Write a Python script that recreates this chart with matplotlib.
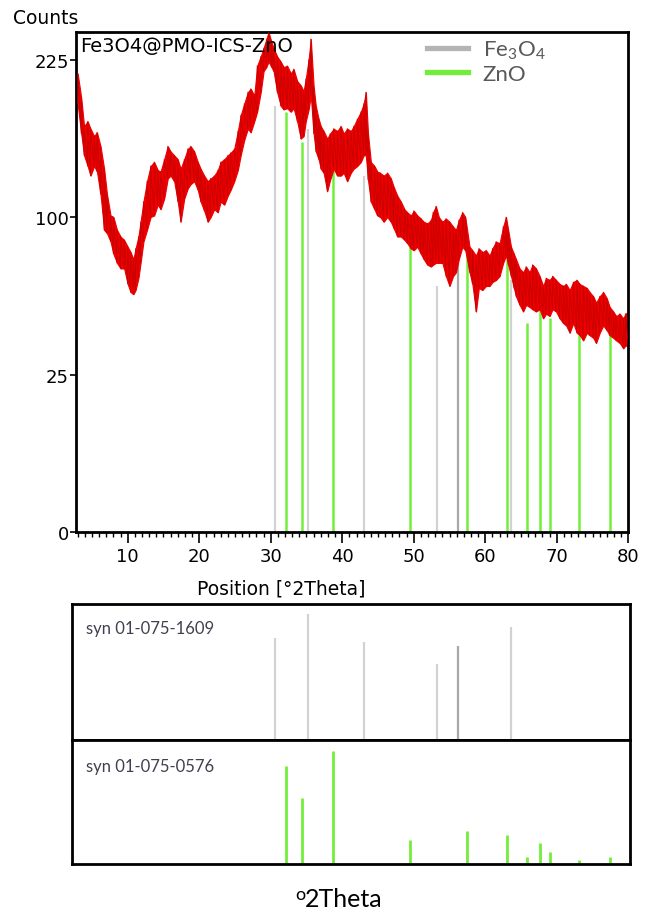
import numpy as np
import matplotlib.pyplot as plt
from matplotlib.lines import Line2D

plt.rcParams['mathtext.fontset'] = 'custom'
plt.rcParams['mathtext.rm'] = 'Lato'
plt.rcParams['mathtext.it'] = 'Lato'

two_theta = [3.0, 3.5, 3.9, 4.4, 4.8, 5.3, 5.7, 6.2, 6.7, 7.1, 7.6, 8.0, 8.5, 9.0, 9.5,
             10.0, 10.4, 10.8, 11.1, 11.5, 11.8, 12.2, 12.7, 13.2, 13.7, 14.2, 14.6, 15.1,
             15.6, 16.0, 16.5, 17.0, 17.4, 17.9, 18.4, 18.8, 19.3, 19.8, 20.2, 20.7, 21.2,
             21.6, 22.1, 22.6, 23.0, 23.5, 24.0, 24.4, 24.9, 25.4, 25.8, 26.3, 26.8, 27.2,
             27.7, 28.1, 28.6, 29.0, 29.4, 29.7, 30.1, 30.4, 30.9, 31.4, 31.8, 32.3, 32.8,
             33.2, 33.7, 34.2, 34.6, 34.9, 35.3, 35.6, 36.0, 36.3, 36.7, 37.0, 37.4, 37.9,
             38.3, 38.8, 39.3, 39.8, 40.2, 40.7, 41.2, 41.6, 42.1, 42.6, 43.0, 43.3, 43.6,
             44.0, 44.5, 44.9, 45.3, 45.8, 46.3, 46.8, 47.2, 47.7, 48.2, 48.7, 49.1, 49.6,
             50.0, 50.5, 51.0, 51.4, 51.9, 52.4, 52.7, 53.1, 53.5, 54.0, 54.5, 55.0, 55.5,
             55.9, 56.3, 56.8, 57.2, 57.8, 58.2, 58.7, 59.1, 59.6, 60.1, 60.6, 61.0, 61.5,
             62.0, 62.5, 62.9, 63.2, 63.6, 64.0, 64.3, 64.8, 65.3, 65.7, 66.2, 66.6, 67.1,
             67.6, 68.1, 68.5, 69.0, 69.4, 69.9, 70.4, 70.9, 71.3, 71.8, 72.3, 72.8, 73.2,
             73.7, 74.2, 74.6, 75.1, 75.5, 76.0, 76.5, 77.0, 77.4, 77.9, 78.3, 78.8, 79.3,
             79.6, 80.0]
counts_low = [185, 160, 143, 135, 128, 135, 131, 115, 92, 90, 85, 78, 73, 70, 70,
              62, 58, 57, 59, 65, 73, 85, 92, 100, 101, 108, 105, 112,
              126, 128, 124, 110, 97, 112, 119, 122, 124, 118, 110, 104, 97,
              100, 105, 103, 110, 108, 114, 118, 124, 132, 143, 155, 164, 161,
              170, 178, 195, 214, 218, 223, 218, 214, 195, 183, 180, 181, 178,
              181, 170, 156, 158, 170, 180, 192, 160, 146, 140, 133, 130, 117,
              125, 133, 128, 128, 130, 124, 130, 133, 135, 138, 143, 143, 125,
              110, 105, 101, 100, 97, 100, 97, 93, 88, 88, 86, 84, 81,
              80, 82, 78, 75, 72, 71, 72, 73, 73, 73, 66, 61, 66,
              68, 75, 82, 80, 68, 62, 49, 60, 59, 61, 61, 63, 64,
              66, 73, 77, 72, 66, 60, 56, 52, 49, 52, 51, 50, 49,
              50, 46, 48, 47, 50, 49, 46, 44, 43, 40, 44, 40, 39,
              37, 40, 39, 38, 36, 40, 43, 41, 39, 38, 37, 36, 34,
              35, 35]
counts_high = [212, 190, 166, 170, 164, 158, 161, 150, 133, 115, 101, 100, 92, 88, 86,
               82, 79, 75, 81, 88, 97, 110, 124, 135, 138, 132, 131, 140,
               150, 146, 143, 140, 133, 140, 148, 150, 146, 138, 133, 128, 124,
               126, 128, 132, 138, 140, 143, 145, 148, 162, 175, 185, 195, 198,
               192, 219, 228, 236, 245, 252, 242, 236, 228, 223, 218, 219, 212,
               216, 205, 201, 196, 207, 225, 245, 200, 183, 172, 166, 162, 156,
               160, 164, 162, 166, 160, 164, 162, 166, 172, 178, 185, 195, 160,
               138, 135, 131, 130, 128, 130, 126, 120, 114, 110, 105, 103, 101,
               104, 101, 99, 97, 96, 98, 103, 107, 100, 97, 99, 97, 94,
               92, 98, 103, 100, 82, 80, 77, 81, 79, 80, 77, 81, 85,
               84, 94, 100, 92, 82, 78, 75, 70, 68, 71, 68, 72, 70,
               66, 61, 65, 64, 66, 64, 62, 61, 62, 59, 63, 64, 62,
               61, 60, 58, 56, 53, 56, 58, 55, 51, 49, 47, 48, 46,
               48, 49]

# reference patterns
fe3o4_pos = [30.6, 35.2, 43.1, 53.2, 56.2, 63.6]
fe3o4_top = [183, 164, 128, 61, 73, 64]      # line height drawn under the pattern
fe3o4_rel = [75, 93, 72, 56, 69, 83]         # syn 01-075-1609
fe3o4_col = ['#d2d2d2', '#d2d2d2', '#d2d2d2', '#d2d2d2', '#a8a8a8', '#d2d2d2']

zno_pos = [32.1, 34.4, 38.7, 49.5, 57.4, 63.0, 65.9, 67.7, 69.1, 73.1, 77.4]
zno_top = [178, 153, 138, 86, 85, 75, 44, 51, 46, 39, 43]
zno_rel = [79, 53, 91, 19, 27, 23, 6, 17, 10, 3, 6]  # syn 01-075-0576

x_ticks = [10, 20, 30, 40, 50, 60, 70, 80]
y_ticks = [0, 25, 100, 225]

red = '#ee0000'
green = '#72ee3a'
grey = '#b4b4b4'

fig = plt.figure(figsize=(6.45, 9.12), dpi=100)

# main pattern, square-root count axis
ax = fig.add_axes([76 / 645, 379 / 912, 552.3 / 645, 500 / 912])
ax.set_yscale('function', functions=(lambda v: np.sqrt(np.clip(v, 0, None)), np.square))
ax.vlines(fe3o4_pos, 0, fe3o4_top, colors=fe3o4_col, lw=1.6, zorder=1)
ax.vlines(zno_pos, 0, zno_top, colors=green, lw=1.8, zorder=1)
ax.fill_between(two_theta, counts_low, counts_high, color=red, lw=0.8, zorder=2)
# zigzag between the edges gives the noisy texture
zz_x = np.repeat(two_theta, 2)
zz_y = np.column_stack([counts_low, counts_high]).ravel()
ax.plot(zz_x, zz_y, color='#c40000', lw=0.7, alpha=0.8, zorder=3)

ax.set_xlim(2.77, 80.0)
ax.set_ylim(0, 252)
ax.set_xticks(x_ticks)
ax.set_xticks(np.arange(3, 81), minor=True)
ax.set_yticks(y_ticks)
ax.tick_params(axis='x', which='major', length=8, width=1.2, labelsize=13, pad=3)
ax.tick_params(axis='x', which='minor', length=3.5, width=1)
ax.tick_params(axis='y', length=4, width=1.2, labelsize=13, pad=1)
for s in ax.spines.values():
    s.set_linewidth(2)

ax.set_xlabel('Position [°2Theta]', fontsize=13.5)
ax.xaxis.set_label_coords(0.371, -0.093)
ax.text(0.007, 0.992, 'Fe3O4@PMO-ICS-ZnO', transform=ax.transAxes, va='top', fontsize=14)
fig.text(13 / 645, 1 - 18 / 912, 'Counts', va='center', fontsize=13.5)

handles = [Line2D([], [], color=grey, lw=3.8), Line2D([], [], color=green, lw=3.8)]
ax.legend(handles, [r'Fe$_3$O$_4$', 'ZnO'], loc='upper left', bbox_to_anchor=(0.6355, 0.986),
          frameon=False, borderpad=0, borderaxespad=0, handlelength=1.85, handletextpad=0.65,
          labelspacing=0.12, prop={'family': 'Lato', 'size': 16}, labelcolor='#595959')

# stick patterns of the reference cards
ax_fe = fig.add_axes([72 / 645, 171 / 912, 558 / 645, 136 / 912])
ax_zn = fig.add_axes([72 / 645, 47 / 912, 558 / 645, 124 / 912])
ax_fe.vlines(fe3o4_pos, 0, fe3o4_rel, colors=fe3o4_col, lw=1.6)
ax_zn.vlines(zno_pos, 0, zno_rel, colors=green, lw=2)
for a, name, ty in [(ax_fe, 'syn 01-075-1609', 0.82), (ax_zn, 'syn 01-075-0576', 0.79)]:
    a.set_xlim(2.21, 80.24)
    a.set_ylim(0, 100)
    a.set_xticks([])
    a.set_yticks([])
    for s in a.spines.values():
        s.set_linewidth(2)
    a.text(0.025, ty, name, transform=a.transAxes, va='center', fontsize=12,
           family='Lato', color='#404050')

fig.text(305 / 645, 1 - 888 / 912, '2Theta', va='top', fontsize=18, family='Lato')
fig.text(305 / 645, 1 - 887 / 912, 'o', ha='right', va='top', fontsize=13, family='Lato')

fig.savefig('out.png', dpi=100)
